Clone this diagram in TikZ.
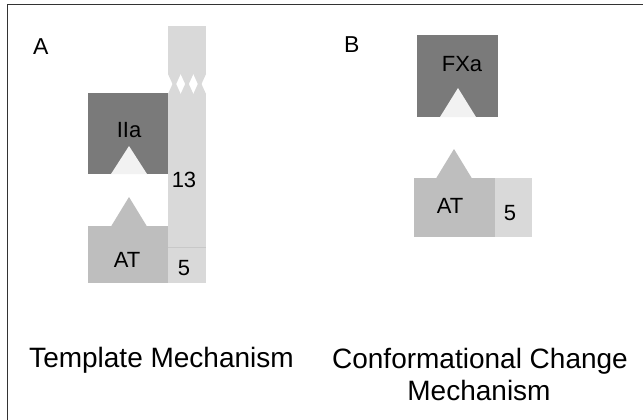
\documentclass[tikz,border=0pt]{standalone}
\usepackage{fontspec}
\setmainfont{Liberation Sans}
\definecolor{darkbox}{HTML}{7A7A7A}
\definecolor{midbox}{HTML}{BEBEBE}
\definecolor{lightbox}{HTML}{D9D9D9}
\definecolor{notch}{HTML}{F2F2F2}
\definecolor{edgeline}{HTML}{C8C8C8}
\tikzset{
  lbl/.style={inner sep=0pt, anchor=base, font=\fontsize{22}{26}\selectfont},
  caption/.style={inner sep=0pt, anchor=base, font=\fontsize{28}{32}\selectfont},
  panel/.style={inner sep=0pt, anchor=base west, font=\fontsize{23}{27}\selectfont},
}
\begin{document}
\begin{tikzpicture}[x=1pt,y=-1pt]
\useasboundingbox (0,0) rectangle (643,420);
\fill[white] (0,0) rectangle (643,420);
% frame (cut at right and bottom)
\draw[line width=1pt, black!80] (7,420) -- (7,5) -- (643,5);

% ---------- Panel A ----------
% top heparin segment
\fill[lightbox] (168,26) rectangle (206,74);
% hourglass links
\foreach \i in {0,1,2}{
  \pgfmathsetmacro{\xa}{168+\i*12.667}
  \pgfmathsetmacro{\xb}{168+(\i+1)*12.667}
  \pgfmathsetmacro{\xm}{168+(\i+0.5)*12.667}
  \fill[lightbox] (\xa,74) -- (\xb,74) -- (\xm,88) -- cycle;
  \fill[lightbox] (\xa,94) -- (\xb,94) -- (\xm,80) -- cycle;
}
% 13 column
\fill[lightbox] (168,94) rectangle (206,248);
% 5 box
\fill[lightbox] (168,248) rectangle (206,283);
\draw[edgeline, line width=1pt] (168,247.5) -- (206,247.5);
% IIa
\fill[darkbox] (88,93) rectangle (168,174);
\fill[notch] (111,174) -- (129,146) -- (147,174) -- cycle;
% AT
\fill[midbox] (88,226) rectangle (168,283);
\fill[midbox] (111,226.5) -- (129,197) -- (147,226.5) -- cycle;

\node[panel] (labA) at (33,55) {A};
\node[lbl] (labIIa) at (129,137) {IIa};
\node[lbl] (lab13) at (184,187) {13};
\node[lbl] (labATa) at (127,267) {AT};
\node[lbl] (lab5a) at (184,275) {5};
\node[caption] (capA) at (161.5,367) {Template Mechanism};

% ---------- Panel B ----------
\fill[darkbox] (417,35) rectangle (498,117);
\fill[notch] (440,117) -- (458,88) -- (476,117) -- cycle;
\fill[midbox] (414,178) rectangle (495,237);
\fill[midbox] (436,178.5) -- (454,149) -- (472,178.5) -- cycle;
\fill[lightbox] (495,178) rectangle (532,237);

\node[panel] (labB) at (344,53) {B};
\node[lbl] (labFXa) at (462,71) {FXa};
\node[lbl] (labATb) at (450,213) {AT};
\node[lbl] (lab5b) at (510,220) {5};
\node[caption] (capB1) at (480,368) {Conformational Change};
\node[caption] (capB2) at (479,400) {Mechanism};
\end{tikzpicture}
\end{document}
